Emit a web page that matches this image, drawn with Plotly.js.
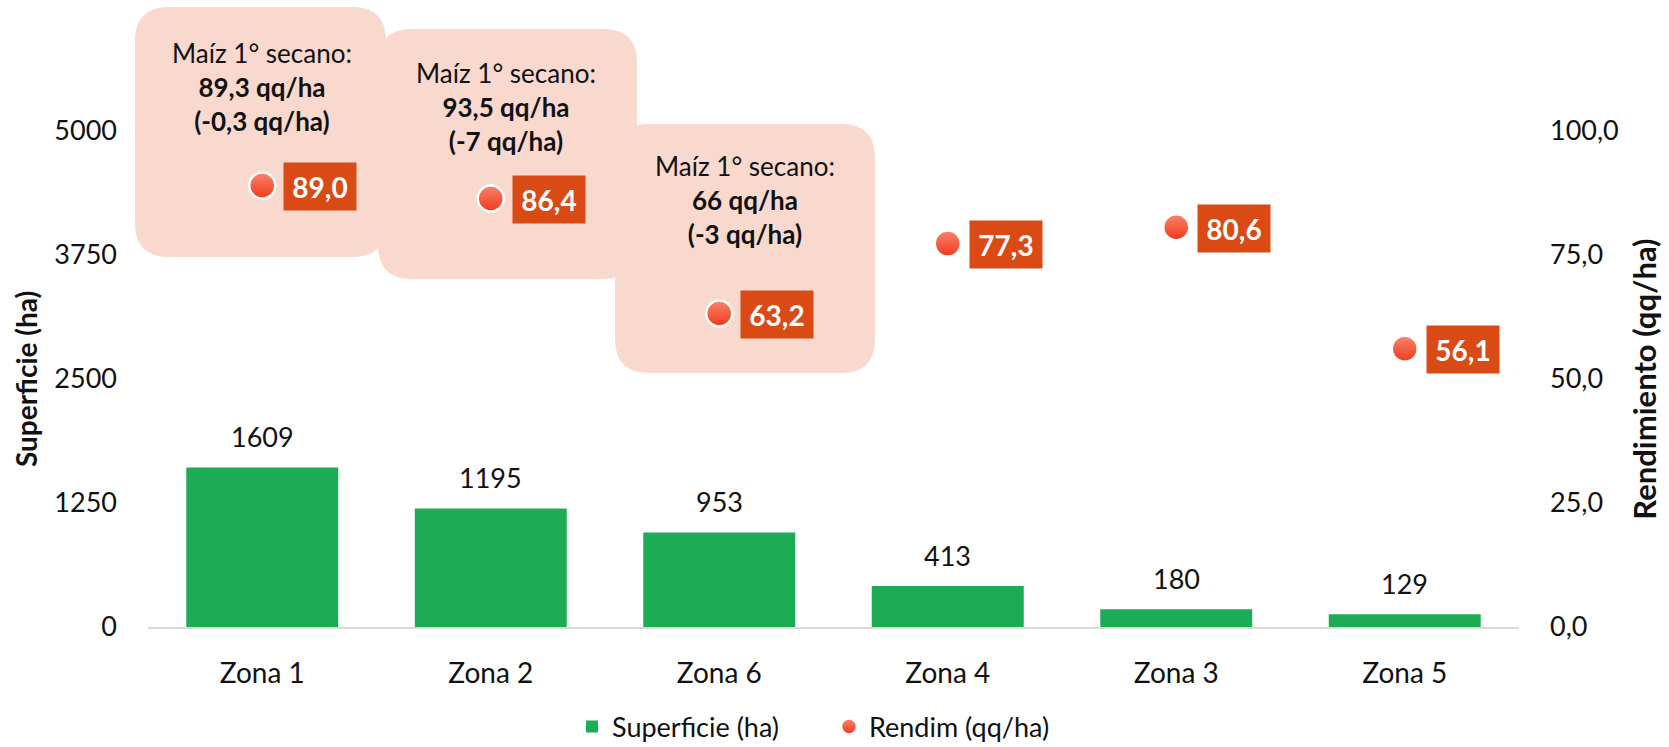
<!DOCTYPE html>
<html><head><meta charset="utf-8">
<script src="https://cdn.plot.ly/plotly-3.0.1.min.js"></script>
<style>html,body{margin:0;padding:0;background:#fff}</style>
</head><body><div id="chart" style="width:1669px;height:747px"></div>
<script>
// ---- data ----
const zonas = ['Zona 1', 'Zona 2', 'Zona 6', 'Zona 4', 'Zona 3', 'Zona 5'];
const superficie = [1609, 1195, 953, 413, 180, 129];
const rendim = [89.0, 86.4, 63.2, 77.3, 80.6, 56.1];
const leftTickVals = [0, 1250, 2500, 3750, 5000];
const leftTickText = ['0', '1250', '2500', '3750', '5000'];
const rightTickVals = [0, 25, 50, 75, 100];
const rightTickText = ['0,0', '25,0', '50,0', '75,0', '100,0'];
const calloutHead = ['Maíz 1° secano:', 'Maíz 1° secano:', 'Maíz 1° secano:'];
const calloutYield = ['89,3 qq/ha', '93,5 qq/ha', '66 qq/ha'];
const calloutDiff = ['(-0,3 qq/ha)', '(-7 qq/ha)', '(-3 qq/ha)'];

// ---- layout geometry (pixels) ----
const W = 1669, H = 747;
const L = 148, R = 1519, T = 131, B = 627;
const px = p => (p - L) / (R - L);
const py = p => (B - p) / (B - T);

// callout boxes in pixels: [x0, y0, x1, y1], text centre [cx, cy]
const calloutBoxes = [[135, 7, 386, 257], [378, 29, 637, 279], [615, 124, 875, 373]];
const calloutText = [[262, 87], [506, 107], [745, 200]];
const rad = 34;

function roundRect(b, r) {
  const [x0, y0, x1, y1] = b;
  const X = v => px(v).toFixed(5), Y = v => py(v).toFixed(5);
  return `M ${X(x0 + r)} ${Y(y0)} L ${X(x1 - r)} ${Y(y0)} ` +
    `Q ${X(x1)} ${Y(y0)} ${X(x1)} ${Y(y0 + r)} L ${X(x1)} ${Y(y1 - r)} ` +
    `Q ${X(x1)} ${Y(y1)} ${X(x1 - r)} ${Y(y1)} L ${X(x0 + r)} ${Y(y1)} ` +
    `Q ${X(x0)} ${Y(y1)} ${X(x0)} ${Y(y1 - r)} L ${X(x0)} ${Y(y0 + r)} ` +
    `Q ${X(x0)} ${Y(y0)} ${X(x0 + r)} ${Y(y0)} Z`;
}

const FONT = 'Lato, "Open Sans", sans-serif';
const fmt1 = v => v.toFixed(1).replace('.', ',');

const shapes = calloutBoxes.map(b => ({
  type: 'path', xref: 'paper', yref: 'paper', layer: 'below',
  path: roundRect(b, rad), fillcolor: '#F9D9CD', line: {width: 0}
}));

const annotations = [];
calloutBoxes.forEach((b, i) => {
  annotations.push({
    xref: 'paper', yref: 'paper', x: px(calloutText[i][0]), y: py(calloutText[i][1]),
    xanchor: 'center', yanchor: 'middle', showarrow: false, align: 'center',
    text: calloutHead[i] + '<br><b>' + calloutYield[i] + '<br>' + calloutDiff[i] + '</b>',
    font: {family: FONT, size: 26, color: '#111'}
  });
});
zonas.forEach((z, i) => {
  annotations.push({
    x: z, y: superficie[i], xref: 'x', yref: 'y', showarrow: false,
    yanchor: 'middle', yshift: 31, text: String(superficie[i]),
    font: {family: FONT, size: 27, color: '#111'}
  });
  annotations.push({
    x: z, y: rendim[i], xref: 'x', yref: 'y2', showarrow: false,
    xanchor: 'center', yanchor: 'middle', xshift: 58, yshift: -1,
    text: '<b>' + fmt1(rendim[i]) + '</b>', bgcolor: '#D94A15',
    width: 58, height: 33, borderpad: 7,
    font: {family: FONT, size: 28, color: '#fff'}
  });
});

const traces = [
  {
    type: 'bar', x: zonas, y: superficie, name: 'Superficie (ha)',
    marker: {color: '#1DAB55'}, hoverinfo: 'none'
  },
  {
    type: 'scatter', mode: 'markers', x: zonas, y: rendim, yaxis: 'y2',
    name: 'Rendim (qq/ha)', hoverinfo: 'none',
    marker: {size: 26, color: '#F8846E', gradient: {type: 'vertical', color: '#F2391A'},
             line: {color: '#ffffff', width: 2.5}}
  }
];

const layout = {
  width: W, height: H,
  margin: {l: L, r: W - R, t: T, b: H - B, autoexpand: false},
  paper_bgcolor: '#fff', plot_bgcolor: 'rgba(0,0,0,0)',
  font: {family: FONT, size: 27, color: '#111'},
  bargap: 0.335,
  showlegend: true,
  legend: {orientation: 'h', x: px(572), xanchor: 'left', y: py(727), yanchor: 'middle',
           entrywidth: 212, entrywidthmode: 'pixels',
           font: {family: FONT, size: 27, color: '#111'}, traceorder: 'normal'},
  xaxis: {type: 'category', range: [-0.5, 5.5], showline: true, linecolor: '#D9D9D9',
          linewidth: 1.5, ticks: '', showgrid: false, zeroline: false, automargin: false,
          tickfont: {family: FONT, size: 28, color: '#111'}, ticklabelstandoff: 21},
  yaxis: {range: [0, 5000], tickvals: leftTickVals, ticktext: leftTickText, automargin: false,
          showgrid: false, zeroline: false, showline: false, ticks: '',
          tickfont: {family: FONT, size: 27, color: '#111'}, ticklabelstandoff: 30,
          title: {text: '<b>Superficie (ha)</b>', font: {family: FONT, size: 28, color: '#111'}, standoff: 8}},
  yaxis2: {range: [0, 100], overlaying: 'y', side: 'right', tickvals: rightTickVals, automargin: false,
           ticktext: rightTickText, showgrid: false, zeroline: false, showline: false, ticks: '',
           tickfont: {family: FONT, size: 27, color: '#111'}, ticklabelstandoff: 30,
           title: {text: '<b>Rendimiento (qq/ha)</b>', font: {family: FONT, size: 31, color: '#111'}, standoff: 16}},
  shapes: shapes,
  annotations: annotations
};

Plotly.newPlot('chart', traces, layout, {displayModeBar: false, staticPlot: true});
</script>
</body></html>
